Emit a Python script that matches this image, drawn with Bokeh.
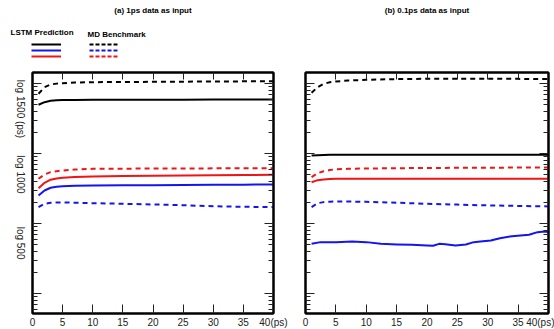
import math
from bokeh.plotting import figure
from bokeh.models import (Range1d, FixedTicker, LinearAxis, LogAxis, Label,
                          Legend, LegendItem)
from bokeh.core.properties import value
from bokeh.layouts import row, column
from bokeh.embed import file_html
from bokeh.resources import INLINE

FONT = "Liberation Sans"
BLACK = "#000000"
BLUE = "#1414f0"
RED = "#f01414"

# ---------------- data ----------------
x_steps = [1, 2, 3, 4, 5, 7, 10, 15, 20, 25, 30, 35, 40]

# (a) 1ps data as input
lstm_black_a = [501, 546, 572, 580, 585, 588, 590, 591, 592, 593, 594, 595, 597]
md_black_a = [720, 894, 977, 1005, 1020, 1040, 1054, 1060, 1066, 1072, 1078, 1083, 1089]
md_red_a = [44, 50.6, 54.6, 56.5, 57.7, 59.5, 61, 61.3, 61.5, 61.7, 61.9, 62.0, 62.2]
lstm_red_a = [32.3, 38.5, 42.6, 44.3, 45.4, 46.5, 47.4, 48, 48.5, 49, 49.4, 49.8, 50.1]
lstm_blue_a = [25.4, 29.9, 32.7, 33.8, 34.4, 34.9, 35.2, 35.4, 35.6, 35.8, 36.0, 36.2, 36.4]
md_blue_a = [17.3, 19.3, 20.0, 20.2, 20.2, 20.0, 19.7, 19.3, 18.9, 18.4, 17.8, 17.5, 17.3]

# (b) 0.1ps data as input
md_black_b = [744, 895, 1000, 1050, 1079, 1110, 1141, 1165, 1179, 1179, 1179, 1175, 1170]
lstm_black_b = [94.6, 95.5, 96, 96.5, 96.8, 96.8, 96.8, 96.8, 96.8, 96.8, 96.8, 96.8, 96.8]
md_red_b = [46.4, 52.8, 56.4, 58.5, 60.2, 61, 61.6, 62.2, 62.7, 63, 63.3, 63.5, 63.7]
lstm_red_b = [39.3, 42, 43, 43.6, 44, 44, 44, 44, 44, 44, 44, 44, 44]
md_blue_b = [17.3, 19.7, 20.4, 20.7, 20.8, 20.8, 20.6, 20.0, 19.3, 18.8, 18.3, 18.0, 17.7]
x_blue_b = [1, 2.5, 5, 7.7, 10, 12.4, 15, 17.5, 20, 21, 22, 23, 24.7, 26.4, 27.7,
            28.8, 30.5, 32, 34, 36.8, 38.2, 39.3, 40]
lstm_blue_b = [5.17, 5.47, 5.47, 5.59, 5.47, 5.17, 5.06, 5.01, 4.90, 4.85, 5.17, 5.12,
               4.90, 5.06, 5.47, 5.59, 5.77, 6.23, 6.66, 6.96, 7.60, 7.76, 7.60]

x_ticks = [0, 5, 10, 15, 20, 25, 30, 35, 40]
x_last_label = "40(ps)"
y_major = [1, 10, 100, 1000]
y_minor = [m * d for d in [0.1, 1, 10, 100] for m in range(2, 10)]
y_label_text = ["log 1500 (ps)", "log 1000", "log 500"]
y_label_pos = [436, 50.6, 5.3]

titles = ["(a) 1ps data as input", "(b) 0.1ps data as input"]
legend_heads = ["LSTM Prediction", "MD Benchmark"]

Y_START, Y_END = 0.523, 1449
FRAME_H = 241
HEADER_H = 70
LAB_W = 26


def style_axis(ax, ticks, labels, tick_in=9):
    ax.axis_line_width = 2
    ax.axis_line_color = BLACK
    ax.major_tick_in = tick_in
    ax.major_tick_out = 0
    ax.minor_tick_in = 5
    ax.minor_tick_out = 0
    ax.major_tick_line_color = "#222222"
    ax.minor_tick_line_color = "#222222"
    ax.major_tick_line_width = 1
    ax.minor_tick_line_width = 1
    ax.major_label_text_font = FONT
    ax.major_label_text_color = "#222222"
    if labels:
        ax.major_label_text_font_size = "10px"
        ax.major_label_standoff = 3
    else:
        ax.major_label_overrides = {t: "" for t in ticks}
        ax.major_label_text_font_size = "1px"
        ax.major_label_standoff = 0


def make_fig(frame_w, b_left, b_right, y_range):
    p = figure(frame_width=frame_w, frame_height=FRAME_H, y_axis_type="log",
               x_range=Range1d(0, 40), y_range=y_range,
               min_border_left=b_left, min_border_right=b_right,
               min_border_top=2, min_border_bottom=16,
               output_backend="svg", toolbar_location=None)
    p.grid.visible = False
    p.outline_line_color = BLACK
    p.outline_line_width = 2
    p.background_fill_color = "white"
    p.border_fill_color = "white"

    p.xaxis.ticker = FixedTicker(ticks=x_ticks, minor_ticks=[])
    style_axis(p.xaxis[0], x_ticks, True)
    p.xaxis.major_label_overrides = {40: x_last_label}
    p.yaxis.ticker = FixedTicker(ticks=y_major, minor_ticks=y_minor)
    style_axis(p.yaxis[0], y_major, False)

    top = LinearAxis(ticker=FixedTicker(ticks=x_ticks, minor_ticks=[]))
    style_axis(top, x_ticks, False, tick_in=7)
    p.add_layout(top, "above")
    right = LogAxis(ticker=FixedTicker(ticks=y_major, minor_ticks=y_minor))
    style_axis(right, y_major, False)
    p.add_layout(right, "right")
    return p


yr = Range1d(Y_START, Y_END)

# ---------------- left panel ----------------
pa = make_fig(241, 32 - LAB_W, 22, yr)
for ys, color, dash in [(md_black_a, BLACK, "5 4"), (lstm_black_a, BLACK, "solid"),
                        (md_red_a, RED, "5 4"), (lstm_red_a, RED, "solid"),
                        (lstm_blue_a, BLUE, "solid"), (md_blue_a, BLUE, "5 4")]:
    pa.line(x_steps, ys, line_color=color, line_width=2, line_dash=dash, line_join="round")

# ---------------- rotated y labels (narrow strip sharing the y scale) ----------------
lab = figure(frame_width=LAB_W, frame_height=FRAME_H, y_axis_type="log",
             x_range=Range1d(0, 1), y_range=yr,
             min_border_left=0, min_border_right=0, min_border_top=2, min_border_bottom=16,
             x_axis_location=None, y_axis_location=None,
             output_backend="svg", toolbar_location=None)
lab.grid.visible = False
lab.outline_line_color = None
lab.border_fill_color = "white"
for txt, pos in zip(y_label_text, y_label_pos):
    lab.add_layout(Label(x=20, y=pos, x_units="screen", y_units="data", text=txt,
                         angle=-math.pi / 2, text_align="center", text_baseline="middle",
                         text_font=FONT, text_font_size="10px", text_color="#222222"))

# ---------------- right panel ----------------
pb = make_fig(243, 10, 6, yr)
for ys, color, dash in [(md_black_b, BLACK, "5 4"), (lstm_black_b, BLACK, "solid"),
                        (md_red_b, RED, "5 4"), (lstm_red_b, RED, "solid"),
                        (md_blue_b, BLUE, "5 4")]:
    pb.line(x_steps, ys, line_color=color, line_width=2, line_dash=dash, line_join="round")
pb.line(x_blue_b, lstm_blue_b, line_color=BLUE, line_width=2, line_join="round")

# ---------------- header: titles + legend ----------------
hd = figure(width=554, height=HEADER_H, x_range=Range1d(0, 554), y_range=Range1d(0, HEADER_H),
            min_border=0, x_axis_location=None, y_axis_location=None,
            output_backend="svg", toolbar_location=None)
hd.grid.visible = False
hd.outline_line_color = None
hd.border_fill_color = "white"
# off-screen range: the legend's series are drawn outside the visible header
hd.extra_y_ranges = {"off": Range1d(-2000, -1000)}


def add_text(p, x, y, txt, align="left"):
    p.add_layout(Label(x=x, y=y, x_units="screen", y_units="screen", text=txt,
                       text_align=align, text_baseline="middle",
                       text_font=FONT, text_font_size="8px",
                       text_font_style="bold", text_color=BLACK))


add_text(hd, 152.5, HEADER_H - 10, titles[0], align="center")
add_text(hd, 426.5, HEADER_H - 10, titles[1], align="center")
add_text(hd, 10, HEADER_H - 32, legend_heads[0])
add_text(hd, 87, HEADER_H - 34, legend_heads[1])


def legend_block(p, entries, dash, loc):
    items = []
    for ys, color in entries:
        r = p.line(x_steps, ys, line_color=color, line_width=2, line_dash=dash,
                   y_range_name="off")
        items.append(LegendItem(label=value(" "), renderers=[r]))
    lg = Legend(items=items, location=loc, orientation="vertical",
                glyph_width=30, glyph_height=6, label_height=6, label_width=0,
                label_standoff=0, label_text_font_size="6px", spacing=0,
                padding=0, margin=0, border_line_alpha=0, background_fill_alpha=0)
    p.add_layout(lg)


legend_block(hd, [(lstm_black_a, BLACK), (lstm_blue_a, BLUE), (lstm_red_a, RED)],
             "solid", (31, HEADER_H - 59))
legend_block(hd, [(md_black_a, BLACK), (md_blue_a, BLUE), (md_red_a, RED)],
             "4 2", (89, HEADER_H - 59))

layout = column(hd, row(lab, pa, pb, spacing=0), spacing=0)
open("out.html", "w").write(file_html(layout, INLINE))
